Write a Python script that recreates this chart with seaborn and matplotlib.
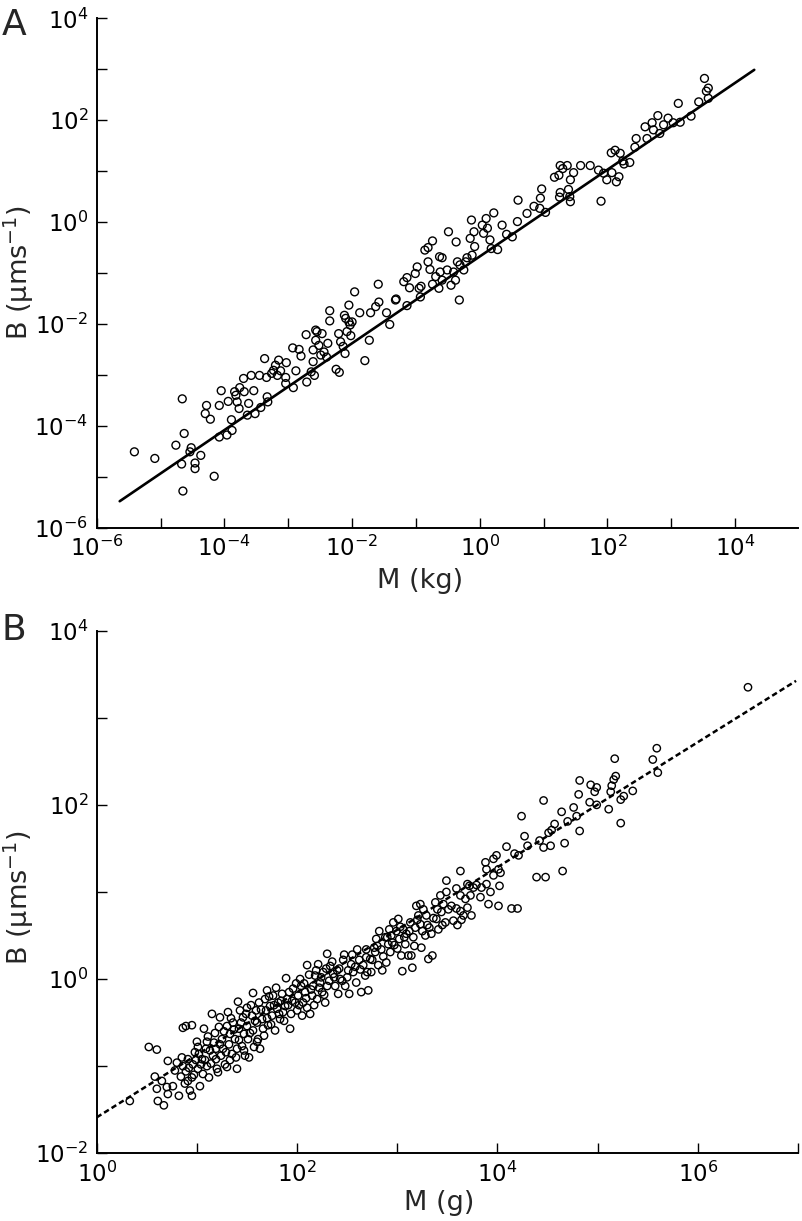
import numpy as np
import pandas as pd
import matplotlib
matplotlib.use('Agg')
import matplotlib.pyplot as plt
from matplotlib.ticker import FixedLocator, FuncFormatter, NullLocator
import seaborn as sns

# panel A: log10 M (kg) and log10 B
log_mass_a = [
    -5.41, -5.09, -4.66, -4.63, -4.76, -4.67, -4.65, -4.54, -4.52, -4.46, -4.46, -4.37, -4.16, -4.30, -4.28,
    -4.22, -4.08, -3.96, -3.88, -4.05, -4.08, -3.94, -3.89, -3.84, -3.82, -3.80, -3.77, -3.76, -3.70, -3.69,
    -3.64, -3.62, -3.58, -3.54, -3.52, -3.45, -3.43, -3.37, -3.33, -3.32, -3.34, -3.26, -3.23, -3.20, -3.15,
    -3.17, -3.12, -3.03, -3.04, -3.04, -2.92, -2.93, -2.83, -2.88, -2.80, -2.72, -2.71, -2.64, -2.59, -2.61,
    -2.61, -2.57, -2.55, -2.52, -2.49, -2.47, -2.44, -2.40, -2.38, -2.35, -2.35, -2.25, -2.20, -2.21, -2.18,
    -2.14, -2.12, -2.11, -2.10, -2.08, -2.05, -2.05, -2.03, -2.02, -2.00, -1.88, -1.80, -1.73, -1.71, -1.63,
    -1.46, -1.41, -1.32,
    -2.57, -1.96, -1.59, -1.58, -1.31, -1.14, -1.19, -1.14, -1.10, -0.98, -1.01, -0.95, -0.93, -0.92, -0.86,
    -0.81, -0.74, -0.81, -0.78, -0.74, -0.69, -0.64, -0.63, -0.59, -0.62, -0.59, -0.51, -0.49, -0.45, -0.41,
    -0.37, -0.38, -0.35, -0.32, -0.31, -0.25, -0.22, -0.13, -0.15, -0.12, -0.09, -0.08, 0.04, 0.06, 0.10,
    0.16, 0.18, 0.22, 0.28, -0.20, 0.12,
    0.35, 0.42, 0.51, 0.59, 0.60, 0.74, 0.85, 0.94, 0.95, 0.97, 1.03, 1.17, 1.24, 1.26, 1.30,
    1.37, 1.25, 1.26, 1.39, 1.41, 1.42, 1.42, 1.47, 1.58, 1.73, 1.86, 1.90, 1.94, 1.99, 2.07,
    2.14, 2.18, 2.06, 2.12, 2.20, 2.24, 2.26, 2.35, 2.43, 2.45, 2.59, 2.62, 2.70, 2.72, 2.79,
    2.82, 2.88, 2.95, 3.03, 3.11, 3.14, 3.31, 3.43, 3.52, 3.55, 3.58, 3.58,
]
log_rate_a = [
    -4.51, -4.64, -3.47, -4.15, -4.38, -4.75, -5.28, -4.51, -4.43, -4.73, -4.84, -4.58, -4.99, -3.76, -3.60,
    -3.87, -4.22, -4.18, -4.09, -3.31, -3.60, -3.52, -3.88, -3.33, -3.40, -3.53, -3.66, -3.25, -3.07, -3.33,
    -3.79, -3.56, -3.01, -3.31, -3.76, -3.01, -3.64, -2.68, -3.43, -3.53, -3.05, -2.97, -2.91, -2.81, -2.71,
    -3.01, -2.92, -2.76, -3.05, -3.17, -3.25, -2.47, -2.50, -2.92, -2.63, -2.21, -3.14, -2.94, -3.01, -2.74,
    -2.51, -2.32, -2.15, -2.42, -2.61, -2.19, -2.55, -2.65, -2.38, -1.74, -1.94, -2.89, -2.95, -2.19, -2.35,
    -2.44, -1.83, -2.58, -1.89, -2.15, -1.63, -1.96, -2.02, -2.23, -1.96, -1.78, -2.72, -2.32, -1.78, -1.66,
    -1.78, -2.01, -1.53,
    -2.12, -1.37, -1.22, -1.57, -1.51, -1.64, -1.17, -1.09, -1.29, -0.88, -1.01, -1.30, -1.47, -1.26, -0.55,
    -0.50, -0.37, -0.78, -0.93, -1.22, -1.07, -1.30, -0.68, -0.70, -0.98, -1.14, -0.94, -0.19, -1.24, -0.98,
    -0.39, -1.14, -0.78, -1.53, -0.84, -0.94, -0.78, 0.04, -0.32, -0.65, -0.19, -0.48, -0.06, -0.22, 0.07,
    -0.35, -0.52, 0.18, -0.54, -0.70, -0.12,
    -0.06, -0.24, -0.29, 0.01, 0.43, 0.17, 0.31, 0.27, 0.47, 0.65, 0.19, 0.88, 0.92, 1.11, 1.05,
    1.11, 0.49, 0.58, 0.64, 0.50, 0.40, 0.83, 0.97, 1.11, 1.11, 1.02, 0.41, 0.96, 0.83, 0.97,
    0.79, 0.89, 1.36, 1.41, 1.35, 1.20, 1.14, 1.17, 1.47, 1.64, 1.87, 1.64, 1.95, 1.81, 2.09,
    1.74, 1.91, 2.04, 1.95, 2.33, 1.96, 2.08, 2.36, 2.82, 2.57, 2.63, 2.43,
]

# panel B: log10 M (g) and log10 B
log_mass_b = [
    0.33, 0.52, 0.60, 0.58, 0.60, 0.61, 0.67, 0.65, 0.70, 0.71, 0.71, 0.76, 0.80, 0.82, 0.85,
    0.86, 0.89, 0.95, 0.86, 0.89, 0.91, 0.91, 0.93, 0.95, 0.95, 0.96, 0.98, 1.00, 1.01, 1.01,
    1.03, 1.05, 1.06, 1.07, 1.09, 1.10, 1.11, 1.12, 1.15, 1.16, 1.17, 1.19, 1.20, 1.21, 1.22,
    1.23, 1.24, 1.25, 1.26, 1.28, 1.30, 1.30, 1.31, 1.32, 1.33, 1.35, 1.36, 1.38, 1.40, 1.40,
    1.41, 1.42, 1.43, 1.45, 1.46, 1.47, 1.48, 1.50, 1.50, 1.51, 1.52, 1.55, 1.56, 1.56, 1.57,
    1.59, 1.60, 1.61, 1.62, 1.63, 1.65, 1.66, 1.68, 1.69, 1.70, 1.71, 1.73, 1.75, 1.76, 1.78,
    1.80, 1.81, 1.83, 1.85, 1.86, 1.88, 1.89, 1.90, 1.93, 1.94, 1.96, 1.98, 2.00, 2.01, 2.03,
    2.04, 2.05, 2.06, 2.08, 2.10, 2.10, 2.13, 2.15, 2.16, 2.18, 2.20, 2.21, 2.23, 2.25, 2.26,
    2.28, 2.30, 2.30,
    0.78, 0.84, 0.88, 0.92, 0.97, 0.99, 1.02, 1.04, 1.08, 1.10, 1.13, 1.14, 1.18, 1.19, 1.23,
    1.27, 1.29, 1.33, 1.34, 1.37, 1.39, 1.42, 1.44, 1.47, 1.49, 1.53, 1.54, 1.58, 1.60, 1.64,
    1.67, 1.70, 1.72, 1.74, 1.77, 1.79, 1.82, 1.84, 1.87, 1.91, 1.92, 1.95, 1.99, 2.02, 2.07,
    2.09, 2.12, 2.14, 2.17, 2.19, 2.22, 2.24, 2.27, 2.29, 2.32, 2.35, 2.37, 2.42, 2.45, 2.47,
    2.51, 2.55, 2.58, 2.62, 2.66, 2.70, 2.75, 2.80, 2.86, 2.90, 2.95, 3.00, 3.03, 3.07, 3.12,
    3.17, 3.20, 3.25, 3.30, 3.36, 3.40, 3.45,
    2.33, 2.36, 2.40, 2.38, 2.41, 2.43, 2.46, 2.48, 2.50, 2.52, 2.54, 2.56, 2.59, 2.60, 2.63,
    2.64, 2.68, 2.69, 2.69, 2.71, 2.73, 2.74, 2.77, 2.78, 2.79, 2.81, 2.82, 2.84, 2.85, 2.88,
    2.89, 2.91, 2.92, 2.93, 2.94, 2.96, 2.97, 2.99, 3.01, 3.02, 3.04, 3.05, 3.06, 3.08, 3.09,
    3.11, 3.13, 3.14, 3.15, 3.16, 3.18, 3.19, 3.21, 3.23, 3.23, 3.24, 3.26, 3.28, 3.29, 3.31,
    3.32, 3.34, 3.35, 3.38, 3.39, 3.41, 3.43, 3.44, 3.46, 3.48, 3.49, 3.49, 3.51,
    3.59, 3.63, 3.63, 3.54, 3.59, 3.63, 3.66, 3.68, 3.70, 3.72, 3.73, 3.70, 3.74, 3.76, 3.79,
    3.83, 3.84, 3.88, 3.89, 3.89, 3.91, 3.93, 3.96, 3.96, 3.99, 4.01, 4.01, 4.02, 4.03, 4.09,
    4.14, 4.20, 4.17, 4.21, 4.24, 4.27, 4.30, 4.39, 4.42, 4.46, 4.46, 4.48, 4.51, 4.53, 4.54,
    4.57, 4.65, 4.64, 4.67, 4.70, 4.76, 4.79, 4.81, 4.82, 4.82,
    6.50, 5.59, 5.55, 5.60, 5.17, 5.18, 5.16, 5.14, 5.13, 5.23, 5.26, 5.35, 5.23, 5.11, 4.99,
    4.97, 4.93, 4.99, 4.92, 3.64, 3.56, 3.60,
]
log_rate_b = [
    -1.40, -0.78, -0.81, -1.12, -1.26, -1.40, -1.45, -1.17, -1.24, -0.94, -1.32, -1.23, -0.96, -1.34, -0.90,
    -0.56, -0.54, -0.53, -1.00, -1.06, -0.92, -1.17, -1.28, -1.34, -1.13, -0.98, -0.84, -0.72, -0.78, -1.03,
    -1.23, -0.92, -1.09, -0.57, -0.80, -1.00, -0.66, -1.13, -0.40, -0.88, -0.73, -0.80, -1.03, -1.07, -0.55,
    -0.44, -0.88, -0.69, -0.80, -0.98, -1.01, -0.54, -0.38, -0.75, -0.63, -0.86, -0.50, -0.69, -1.03, -0.80,
    -0.26, -0.57, -0.36, -0.77, -0.44, -0.63, -0.88, -0.33, -0.54, -0.69, -0.90, -0.42, -0.16, -0.59, -0.78,
    -0.36, -0.50, -0.69, -0.27, -0.80, -0.46, -0.57, -0.23, -0.36, -0.13, -0.53, -0.31, -0.42, -0.19, -0.59,
    -0.34, -0.27, -0.46, -0.17, -0.38, -0.31, 0.01, -0.23, -0.57, -0.40, -0.11, -0.27, -0.36, -0.19, 0.00,
    -0.08, -0.42, -0.27, -0.15, 0.16, -0.33, -0.40, -0.19, -0.08, 0.04, -0.23, 0.17, -0.04, -0.15, 0.08,
    -0.27, 0.29, -0.08,
    -1.05, -1.12, -1.20, -1.02, -1.10, -0.93, -0.86, -0.98, -0.93, -0.72, -0.82, -0.97, -0.62, -0.92, -0.75,
    -0.60, -0.84, -0.93, -0.45, -0.58, -0.90, -0.70, -0.50, -0.82, -0.40, -0.62, -0.30, -0.48, -0.72, -0.35,
    -0.65, -0.45, -0.20, -0.52, -0.30, -0.10, -0.40, -0.25, -0.48, -0.30, -0.15, -0.25, -0.05, -0.30, -0.05,
    -0.22, 0.05, -0.12, -0.30, 0.10, -0.10, 0.02, -0.18, 0.12, -0.02, 0.20, 0.02, 0.12, -0.02, 0.28,
    0.10, 0.28, 0.14, 0.22, 0.16, 0.08, 0.22, 0.38, 0.26, 0.48, 0.42, 0.35, 0.60, 0.48, 0.55,
    0.38, 0.68, 0.55, 0.62, 0.70, 0.80, 0.62,
    0.15, 0.06, 0.10, -0.08, -0.17, 0.00, 0.22, -0.08, 0.02, -0.17, 0.17, 0.08, -0.04, 0.34, 0.11,
    -0.15, 0.04, 0.25, 0.34, -0.13, 0.23, 0.08, 0.36, 0.31, 0.46, 0.16, 0.55, 0.34, 0.10, 0.48,
    0.19, 0.40, 0.57, 0.31, 0.50, 0.65, 0.39, 0.55, 0.69, 0.46, 0.27, 0.09, 0.57, 0.40, 0.52,
    0.27, 0.65, 0.27, 0.13, 0.48, 0.59, 0.84, 0.73, 0.63, 0.86, 0.36, 0.80, 0.50, 0.73, 0.23,
    0.59, 0.52, 0.27, 0.88, 0.69, 0.57, 0.96, 0.77, 0.86, 0.65, 1.13, 1.00, 0.80,
    1.04, 1.24, 0.96, 0.84, 0.81, 0.78, 0.73, 0.92, 1.09, 1.07, 0.96, 0.82, 0.73, 1.05, 1.08,
    0.94, 1.05, 1.34, 1.26, 1.09, 0.86, 1.00, 1.38, 1.19, 1.42, 1.26, 0.84, 1.07, 1.22, 1.52,
    0.81, 0.81, 1.44, 1.42, 1.87, 1.64, 1.53, 1.17, 1.59, 2.05, 1.51, 1.17, 1.68, 1.53, 1.71,
    1.78, 1.24, 1.92, 1.56, 1.81, 1.97, 1.87, 2.12, 1.70, 2.28,
    3.35, 2.65, 2.52, 2.37, 2.53, 2.33, 2.29, 2.22, 2.15, 2.06, 2.10, 2.16, 1.79, 1.95, 2.20,
    2.15, 2.23, 2.00, 2.03, 0.68, 0.67, 0.62,
]

# fitted power laws as drawn: log B = slope * log M + icpt, over the drawn span
fit_a = {'slope': 0.852, 'icpt': -0.675, 'span': [-5.64, 4.30]}
fit_b = {'slope': 0.718, 'icpt': -1.588, 'span': [0.0, 6.98]}

sns.set_style('ticks')
plt.rcParams['font.family'] = ['DejaVu Sans']
plt.rcParams['mathtext.default'] = 'regular'

fig = plt.figure(figsize=(8.02, 12.21), dpi=100)
ax_a = fig.add_axes([0.1206, 0.5678, 0.874, 0.4172])
ax_b = fig.add_axes([0.1206, 0.0555, 0.8745, 0.428])


def even_power(v, pos):
    p = int(round(np.log10(v)))
    if p % 2 == 0:
        return r'$10^{%d}$' % p
    return ''


def style_axes(ax, xpows, ypows, xmax):
    ax.set_xscale('log')
    ax.set_yscale('log')
    ax.set_xlim(10.0 ** xpows[0], xmax)
    ax.set_ylim(10.0 ** ypows[0], 10.0 ** ypows[-1])
    ax.xaxis.set_major_locator(FixedLocator([10.0 ** p for p in xpows]))
    ax.yaxis.set_major_locator(FixedLocator([10.0 ** p for p in ypows]))
    ax.xaxis.set_minor_locator(NullLocator())
    ax.yaxis.set_minor_locator(NullLocator())
    ax.xaxis.set_major_formatter(FuncFormatter(even_power))
    ax.yaxis.set_major_formatter(FuncFormatter(even_power))
    ax.tick_params(direction='in', length=7, width=1.0, labelsize=16.5, pad=6, colors='black')
    sns.despine(ax=ax)
    for s in ['left', 'bottom']:
        ax.spines[s].set_linewidth(1.4)
        ax.spines[s].set_color('black')


def draw_panel(ax, lx, ly, fit, size, dashed):
    df = pd.DataFrame({'M': 10.0 ** np.array(lx), 'B': 10.0 ** np.array(ly)})
    sns.scatterplot(data=df, x='M', y='B', ax=ax, marker='o', s=size,
                    facecolors='none', edgecolor='black', linewidth=1.0, zorder=3)
    fx = np.array(fit['span'])
    line = pd.DataFrame({'M': 10.0 ** fx, 'B': 10.0 ** (fit['slope'] * fx + fit['icpt'])})
    if dashed:
        ax.plot(line['M'], line['B'], color='black', lw=1.8, dashes=(2.2, 1.3), zorder=2)
    else:
        sns.lineplot(data=line, x='M', y='B', ax=ax, color='black', lw=1.9, zorder=2)


style_axes(ax_a, list(range(-6, 5)), list(range(-6, 5)), 10.0 ** 4.98)
draw_panel(ax_a, log_mass_a, log_rate_a, fit_a, 32, False)
style_axes(ax_b, list(range(0, 8)), list(range(-2, 5)), 1e7)
draw_panel(ax_b, log_mass_b, log_rate_b, fit_b, 28, True)

ylab = 'B (μms$^{-1}$)'
ax_a.set_xlabel('M (kg)', fontsize=19.5)
ax_a.set_ylabel(ylab, fontsize=19.5)
ax_b.set_xlabel('M (g)', fontsize=19.5)
ax_b.set_ylabel(ylab, fontsize=19.5)
ax_a.xaxis.set_label_coords(0.461, -0.079)
ax_b.xaxis.set_label_coords(0.488, -0.070)
ax_a.xaxis.label.set_va('top')
ax_b.xaxis.label.set_va('top')
ax_a.yaxis.set_label_coords(-0.087, 0.5)
ax_b.yaxis.set_label_coords(-0.087, 0.49)

fig.text(0.002, 1 - 35 / 1221, 'A', fontsize=26, va='baseline', ha='left')
fig.text(0.002, 1 - 640 / 1221, 'B', fontsize=26, va='baseline', ha='left')

fig.savefig('out.png', dpi=100)
